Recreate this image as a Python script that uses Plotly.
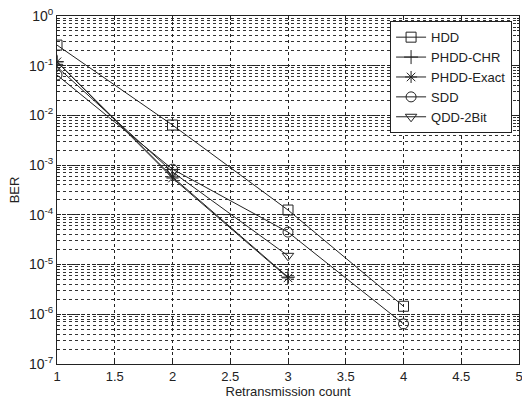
import plotly.graph_objects as go

retrans = [1, 2, 3, 4]
hdd = [0.26, 0.0064, 1.25e-4, 1.45e-6]
phdd_chr = [0.12, 5.8e-4, 5.6e-6]
phdd_exact = [0.12, 5.5e-4, 5.4e-6]
sdd = [0.065, 8.3e-4, 4.5e-5, 6.4e-7]
qdd_2bit = [0.095, 7.3e-4, 1.5e-5]

ytick_vals = [1e0, 1e-1, 1e-2, 1e-3, 1e-4, 1e-5, 1e-6, 1e-7]
ytick_text = ["10<sup>0</sup>", "10<sup>-1</sup>", "10<sup>-2</sup>", "10<sup>-3</sup>",
              "10<sup>-4</sup>", "10<sup>-5</sup>", "10<sup>-6</sup>", "10<sup>-7</sup>"]
xtick_vals = [1, 1.5, 2, 2.5, 3, 3.5, 4, 4.5, 5]
xtick_text = ["1", "1.5", "2", "2.5", "3", "3.5", "4", "4.5", "5"]

series = [
    ("HDD", hdd, "square-open"),
    ("PHDD-CHR", phdd_chr, "cross-thin-open"),
    ("PHDD-Exact", phdd_exact, "asterisk-open"),
    ("SDD", sdd, "circle-open"),
    ("QDD-2Bit", qdd_2bit, "triangle-down-open"),
]

fig = go.Figure()
for name, vals, sym in series:
    fig.add_trace(go.Scatter(
        x=retrans[:len(vals)], y=vals, name=name, mode="lines+markers",
        line=dict(color="#222222", width=1),
        marker=dict(symbol=sym, size=10, color="#222222", line=dict(width=1, color="#222222")),
    ))

font = "Liberation Sans, Arial, sans-serif"
fig.update_layout(
    width=522, height=402,
    margin=dict(l=57, r=3, t=16, b=38),
    paper_bgcolor="white", plot_bgcolor="white",
    font=dict(family=font, size=13, color="#222222"),
    showlegend=True,
    legend=dict(x=0.985, y=0.985, xanchor="right", yanchor="top",
                bordercolor="#222222", borderwidth=1, bgcolor="white",
                font=dict(size=13), tracegroupgap=0, itemwidth=30),
    xaxis=dict(
        range=[1, 5], tickvals=xtick_vals, ticktext=xtick_text, automargin=False,
        showgrid=True, gridcolor="#222222", griddash="3px,3px", gridwidth=1,
        ticks="inside", ticklen=4, tickcolor="#222222", ticklabeloverflow="allow",
        showline=True, linecolor="#222222", mirror="ticks", zeroline=False,
        title=dict(text="Retransmission count", standoff=0, font=dict(size=13)),
    ),
    yaxis=dict(
        type="log", range=[-7, 0], tickvals=ytick_vals, ticktext=ytick_text, automargin=False,
        showgrid=True, gridcolor="#222222", griddash="3px,2px", gridwidth=1,
        ticks="inside", ticklen=4, tickcolor="#222222", tickfont=dict(size=14),
        showline=True, linecolor="#222222", mirror="ticks", zeroline=False,
        minor=dict(dtick="D1", showgrid=True, gridcolor="#333333", griddash="3px,3px",
                   gridwidth=1, ticks="inside", ticklen=2, tickcolor="#222222"),
        title=dict(text="BER", standoff=6, font=dict(size=13)),
    ),
)

fig.write_html("out.html")
